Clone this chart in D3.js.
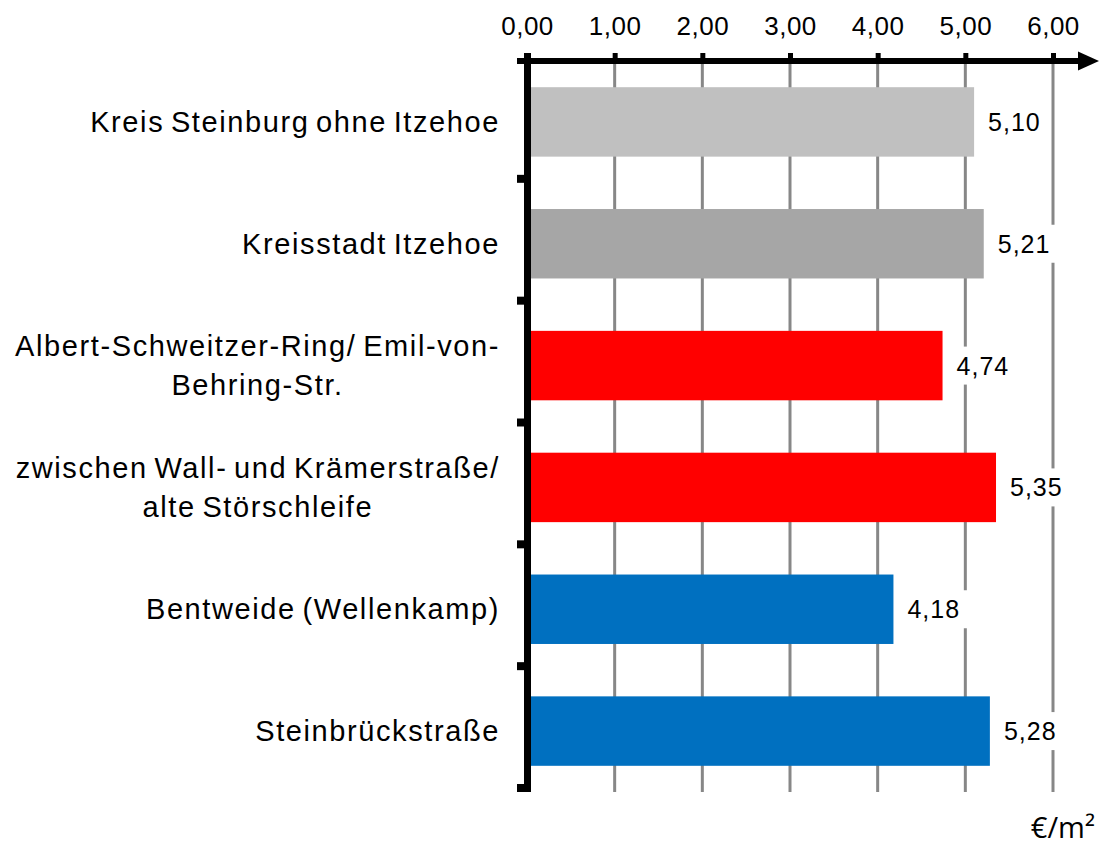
<!DOCTYPE html>
<html lang="de">
<head>
<meta charset="UTF-8">
<title>Mietpreise €/m²</title>
<script src="https://d3js.org/d3.v7.min.js"></script>
<style>
    body { margin: 0; background: #fff; }
    svg { font-family: Arial, "Liberation Sans", sans-serif; }
    .cat { font-size: 29px; letter-spacing: 1.6px; word-spacing: -3px; fill: #000; }
    .val { font-size: 25px; letter-spacing: 1px; fill: #000; }
    .xaxis text { font-size: 26px; letter-spacing: 0.5px; fill: #000; }
    .unit { font-family: "Open Sans", sans-serif; font-size: 29px; }
</style>
</head>
<body>
<div id="chart"></div>
<script>
// data
var categories = [
    ["Kreis Steinburg ohne Itzehoe"],
    ["Kreisstadt Itzehoe"],
    ["Albert-Schweitzer-Ring/ Emil-von-", "Behring-Str."],
    ["zwischen Wall- und Krämerstraße/", "alte Störschleife"],
    ["Bentweide (Wellenkamp)"],
    ["Steinbrückstraße"]
];
var values = [5.10, 5.21, 4.74, 5.35, 4.18, 5.28];
var colors = ["#c0c0c0", "#a6a6a6", "#ff0000", "#ff0000", "#0070c0", "#0070c0"];
var xTicks = [0, 1, 2, 3, 4, 5, 6];
var unitLabel = "€/m²";

var data = values.map(function(v, i) {
    return { key: "c" + i, lines: categories[i], value: v, color: colors[i] };
});

var width = 1103, height = 848;
var svg = d3.select("#chart").append("svg")
    .attr("width", width)
    .attr("height", height);

var de = d3.formatLocale({ decimal: ",", thousands: ".", grouping: [3], currency: ["", " €"] });
var fmt = de.format(".2f");

var x = d3.scaleLinear().domain([0, 6]).range([527, 1053]);
var y = d3.scaleBand()
    .domain(data.map(function(d) { return d.key; }))
    .range([61, 792])
    .paddingInner(0.43)
    .paddingOuter(0.215);

// gridlines
svg.append("g").selectAll("line")
    .data(xTicks.slice(1))
    .enter().append("line")
    .attr("x1", function(d) { return x(d); })
    .attr("x2", function(d) { return x(d); })
    .attr("y1", 61)
    .attr("y2", 792)
    .attr("stroke", "#878787")
    .attr("stroke-width", 3);

// bars
svg.append("g").selectAll("rect")
    .data(data)
    .enter().append("rect")
    .attr("x", x(0) + 3)
    .attr("y", function(d) { return y(d.key); })
    .attr("width", function(d) { return x(d.value) - x(0) - 3; })
    .attr("height", y.bandwidth())
    .attr("fill", function(d) { return d.color; });

// value labels with white box
var vl = svg.append("g").selectAll("g")
    .data(data)
    .enter().append("g")
    .attr("transform", function(d) {
        return "translate(" + (x(d.value) + 14) + "," + (y(d.key) + y.bandwidth() / 2) + ")";
    });
vl.append("rect")
    .attr("x", -6)
    .attr("y", -19)
    .attr("width", 66)
    .attr("height", 38)
    .attr("fill", "#fff");
vl.append("text")
    .attr("class", "val")
    .attr("y", 9)
    .text(function(d) { return fmt(d.value); });

// top axis
var xAxis = d3.axisTop(x)
    .tickValues(xTicks)
    .tickSize(8)
    .tickPadding(18)
    .tickFormat(fmt);
var gx = svg.append("g")
    .attr("class", "xaxis")
    .attr("transform", "translate(0,61)")
    .call(xAxis);
gx.select(".domain").remove();
gx.selectAll(".tick line").attr("stroke", "#000").attr("stroke-width", 5);

// horizontal axis line with arrow
svg.append("line")
    .attr("x1", 517).attr("x2", 1080)
    .attr("y1", 61).attr("y2", 61)
    .attr("stroke", "#000").attr("stroke-width", 6);
svg.append("path")
    .attr("d", "M1078,51.5 L1099,61 L1078,70.5 Z")
    .attr("fill", "#000");

// vertical axis
svg.append("line")
    .attr("x1", 527.5).attr("x2", 527.5)
    .attr("y1", 53).attr("y2", 792)
    .attr("stroke", "#000").attr("stroke-width", 7);

var step = y.step();
var bounds = data.map(function(d) { return y(d.key) - (step - y.bandwidth()) / 2; });
bounds.push(bounds[bounds.length - 1] + step);
svg.append("g").selectAll("line")
    .data(bounds.slice(1))
    .enter().append("line")
    .attr("x1", 517).attr("x2", 527)
    .attr("y1", function(d) { return d - 4; })
    .attr("y2", function(d) { return d - 4; })
    .attr("stroke", "#000").attr("stroke-width", 8);

// category labels
var cl = svg.append("g").selectAll("text")
    .data(data)
    .enter().append("text")
    .attr("class", "cat")
    .attr("text-anchor", "middle");
cl.each(function(d) {
    var t = d3.select(this);
    var cy = y(d.key) + y.bandwidth() / 2;
    var lh = 39;
    var y0 = cy - (d.lines.length - 1) * lh / 2 + 10;
    d.lines.forEach(function(line, i) {
        t.append("tspan").attr("y", y0 + i * lh).text(line);
    });
    var maxW = 0;
    t.selectAll("tspan").each(function() {
        maxW = Math.max(maxW, this.getComputedTextLength());
    });
    t.selectAll("tspan").attr("x", 500 - maxW / 2);
});

// unit
svg.append("text")
    .attr("class", "unit")
    .attr("x", 1095)
    .attr("y", 838)
    .attr("text-anchor", "end")
    .text(unitLabel);
</script>
</body>
</html>
